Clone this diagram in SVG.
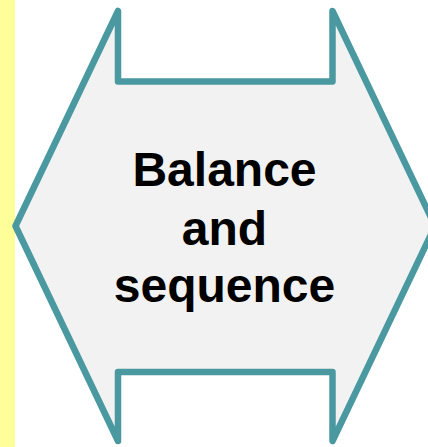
<svg xmlns="http://www.w3.org/2000/svg" width="428" height="447" viewBox="0 0 428 447">
  <style>
    .strip { fill: #FFFF99; }
    .arrow { fill: #F2F2F2; stroke: #4A99A1; stroke-width: 6.5; stroke-linejoin: round; }
    .label { font-family: "Liberation Sans", Arial, sans-serif; font-weight: bold; font-size: 48px; fill: #000000; text-anchor: middle; }
  </style>
  <rect class="strip" x="0" y="0" width="15" height="447"/>
  <g id="balance-arrow">
    <path class="arrow" d="M15.5,226 L118,11 L118,81.5 L332.5,81.5 L332.5,11 L435,226 L332.5,441 L332.5,372 L118,372 L118,441 Z"/>
    <text class="label" x="224.5" y="186">Balance</text>
    <text class="label" x="224.5" y="245">and</text>
    <text class="label" x="224.5" y="302">sequence</text>
  </g>
</svg>
